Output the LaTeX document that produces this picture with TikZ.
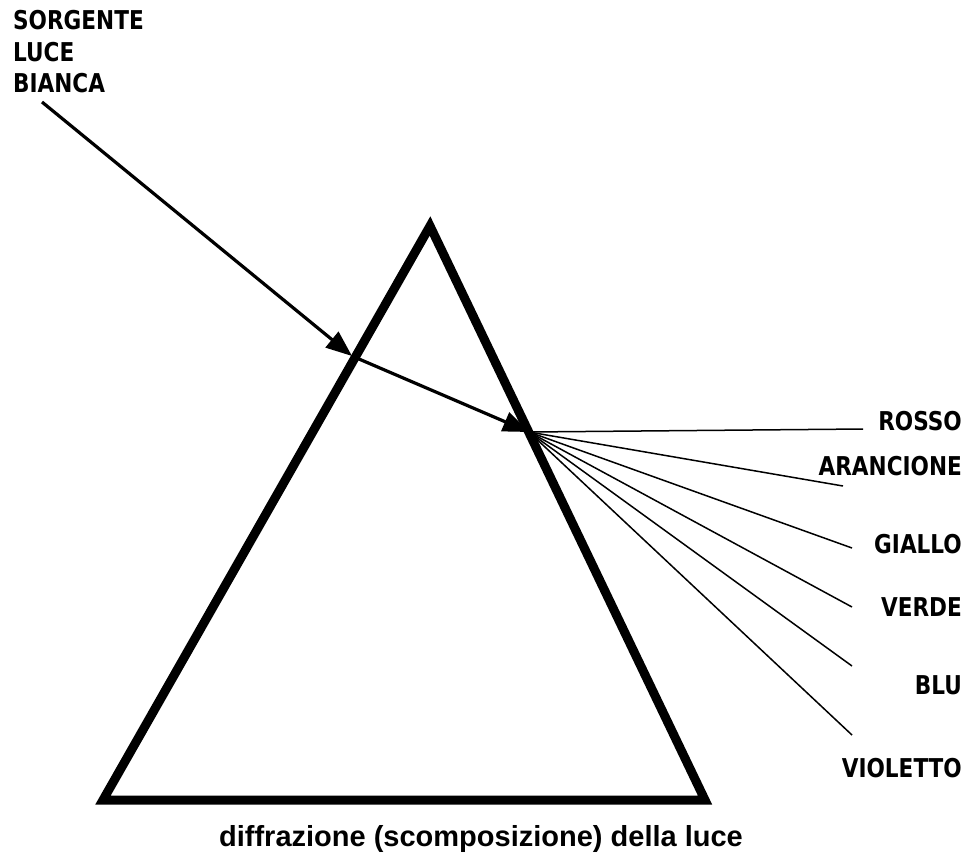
\documentclass[tikz,border=0pt]{standalone}
\usepackage{fontspec}
\usetikzlibrary{arrows.meta}
\newfontfamily\labfont{DejaVu Sans}
\newfontfamily\capfont{Liberation Sans}
\begin{document}
\begin{tikzpicture}[x=1pt,y=-1pt,
  prism/.style={line width=9pt, line join=miter},
  ray/.style={line width=3.2pt, -{Triangle[length=26pt,width=20pt]}},
  spec/.style={line width=1.5pt},
  lab/.style={font=\labfont\bfseries\fontsize{24}{24}\selectfont, xscale=0.9, yscale=1.08, inner sep=0pt},
]
\useasboundingbox (0,0) rectangle (968,854);
% prism
\coordinate (A) at (430,226);
\coordinate (B) at (103,800);
\coordinate (C) at (705,800);
\draw[prism] (A) -- (B) -- (C) -- cycle;
% rays
\coordinate (src) at (42,102);
\coordinate (in) at (352,356);
\coordinate (out) at (529,432);
\draw[ray] (src) -- (in);
\draw[ray] (in) -- (out);
% spectrum ends
\coordinate (eR) at (863,429);
\coordinate (eA) at (843,486);
\coordinate (eG) at (852,548);
\coordinate (eV) at (852,607);
\coordinate (eB) at (852,666);
\coordinate (eVi) at (852,735);
\foreach \e in {eR,eA,eG,eV,eB,eVi} \draw[spec] (out) -- (\e);
% labels
\node[lab, anchor=west] (sorg) at (13,20) {SORGENTE};
\node[lab, anchor=west] (luce) at (13,52) {LUCE};
\node[lab, anchor=west] (bianca) at (13,83) {BIANCA};
\node[lab, anchor=east] (rosso) at (962,421) {ROSSO};
\node[lab, anchor=east] (aranc) at (962,466) {ARANCIONE};
\node[lab, anchor=east] (giallo) at (962,544) {GIALLO};
\node[lab, anchor=east] (verde) at (962,607) {VERDE};
\node[lab, anchor=east] (blu) at (962,685) {BLU};
\node[lab, anchor=east] (viol) at (962,768) {VIOLETTO};
\node[font=\capfont\bfseries\fontsize{29}{29}\selectfont, anchor=base, inner sep=0pt] (cap) at (481,846) {diffrazione (scomposizione) della luce};
\end{tikzpicture}
\end{document}
